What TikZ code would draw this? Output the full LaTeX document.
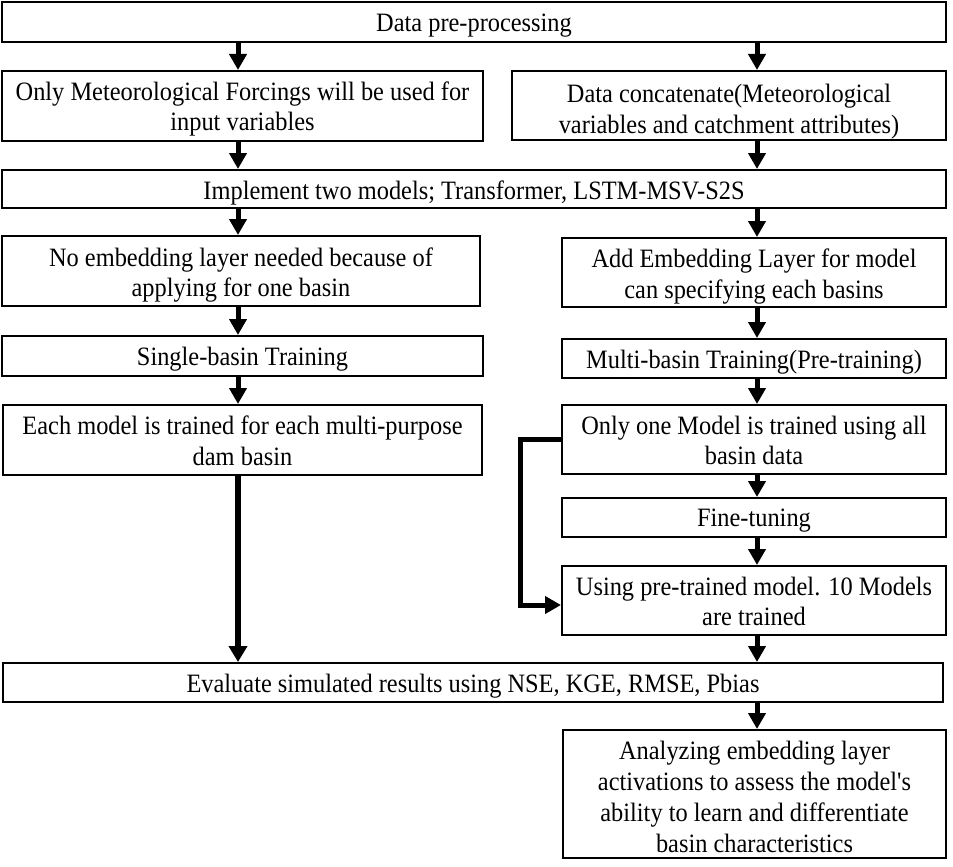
\documentclass[tikz,border=0pt]{standalone}
\usepackage{fontspec}
\setmainfont{Liberation Serif}[Ligatures=TeXOff, FakeStretch=0.92]
\usetikzlibrary{arrows.meta,calc}
\begin{document}
\begin{tikzpicture}[x=1pt,y=-1pt,
  box/.style={draw, line width=2pt, inner sep=0pt},
  txt/.style={inner sep=0pt, align=center,
    font=\fontsize{26.5pt}{30.8pt}\selectfont},
  arr/.style={line width=5pt, -{Triangle[length=16pt,width=17pt]}},
  longarr/.style={line width=6pt, -{Triangle[length=16pt,width=18pt]}}]
\useasboundingbox (0,0) rectangle (953,867);
\coordinate (xl) at (238,0);
\coordinate (xr) at (757,0);
% boxes
\node[box, minimum width=944pt, minimum height=40pt] (b1) at (474,22) {};
\node[box, minimum width=481pt, minimum height=70pt] (b2L) at (242.5,106) {};
\node[box, minimum width=434pt, minimum height=69pt] (b2R) at (729,105.5) {};
\node[box, minimum width=944pt, minimum height=38pt] (b3) at (474,189) {};
\node[box, minimum width=478pt, minimum height=70pt] (b4L) at (241,271) {};
\node[box, minimum width=384pt, minimum height=69pt] (b4R) at (754,272.5) {};
\node[box, minimum width=481pt, minimum height=40pt] (b5L) at (242.5,356) {};
\node[box, minimum width=384pt, minimum height=39pt] (b5R) at (754,358.5) {};
\node[box, minimum width=479pt, minimum height=70pt] (b6L) at (242.5,440) {};
\node[box, minimum width=384pt, minimum height=69pt] (b6R) at (754,439.5) {};
\node[box, minimum width=384pt, minimum height=39pt] (b7R) at (754,517.5) {};
\node[box, minimum width=384pt, minimum height=69pt] (b8R) at (754,600.5) {};
\node[box, minimum width=940pt, minimum height=39pt] (b9) at (473,682.5) {};
\node[box, minimum width=383pt, minimum height=128pt] (b10) at (754.5,794) {};
% texts
\node[txt] (t1) at ([yshift=-3.5pt]b1.center) {Data pre-processing};
\node[txt] (t2L) at ([yshift=-3pt]b2L.center) {Only Meteorological Forcings will be used for\\input variables};
\node[txt] (t2R) at ([yshift=-6pt]b2R.center) {Data concatenate(Meteorological\\variables and catchment attributes)};
\node[txt] (t3) at ([yshift=-3.5pt]b3.center) {Implement two models; Transformer, LSTM-MSV-S2S};
\node[txt] (t4L) at ([yshift=-4pt]b4L.center) {No embedding layer needed because of\\applying for one basin};
\node[txt] (t4R) at ([yshift=-4pt]b4R.center) {Add Embedding Layer for model\\can specifying each basins};
\node[txt] (t5L) at ([yshift=-3.5pt]b5L.center) {Single-basin Training};
\node[txt] (t5R) at ([yshift=-3.5pt]b5R.center) {Multi-basin Training(Pre-training)};
\node[txt] (t6L) at ([yshift=-1pt]b6L.center) {Each model is trained for each multi-purpose\\dam basin};
\node[txt] (t6R) at ([yshift=-1pt]b6R.center) {Only one Model is trained using all\\basin data};
\node[txt] (t7R) at ([yshift=-3.5pt]b7R.center) {Fine-tuning};
\node[txt] (t8R) at ([yshift=-1pt]b8R.center) {Using pre-trained model. 10 Models\\are trained};
\node[txt] (t9) at ([yshift=-3.5pt]b9.center) {Evaluate simulated results using NSE, KGE, RMSE, Pbias};
\node[txt] (t10) at ([yshift=-3pt]b10.center) {Analyzing embedding layer\\activations to assess the model's\\ability to learn and differentiate\\basin characteristics};
% connectors
\draw[arr] (b1.south -| xl) -- (b2L.north -| xl);
\draw[arr] (b1.south -| xr) -- (b2R.north -| xr);
\draw[arr] (b2L.south -| xl) -- (b3.north -| xl);
\draw[arr] (b2R.south -| xr) -- (b3.north -| xr);
\draw[arr] (b3.south -| xl) -- (b4L.north -| xl);
\draw[arr] (b3.south -| xr) -- (b4R.north -| xr);
\draw[arr] (b4L.south -| xl) -- (b5L.north -| xl);
\draw[arr] (b4R.south -| xr) -- (b5R.north -| xr);
\draw[arr] (b5L.south -| xl) -- (b6L.north -| xl);
\draw[arr] (b5R.south -| xr) -- (b6R.north -| xr);
\draw[arr] (b6R.south -| xr) -- (b7R.north -| xr);
\draw[arr] (b7R.south -| xr) -- (b8R.north -| xr);
\draw[longarr] (b6L.south -| xl) -- (b9.north -| xl);
\draw[arr] (b8R.south -| xr) -- (b9.north -| xr);
\draw[arr] (b9.south -| xr) -- (b10.north -| xr);
\draw[arr] (b6R.west) -- ++(-41,0) |- ($(b8R.west)+(0,4.5)$);
\end{tikzpicture}
\end{document}
